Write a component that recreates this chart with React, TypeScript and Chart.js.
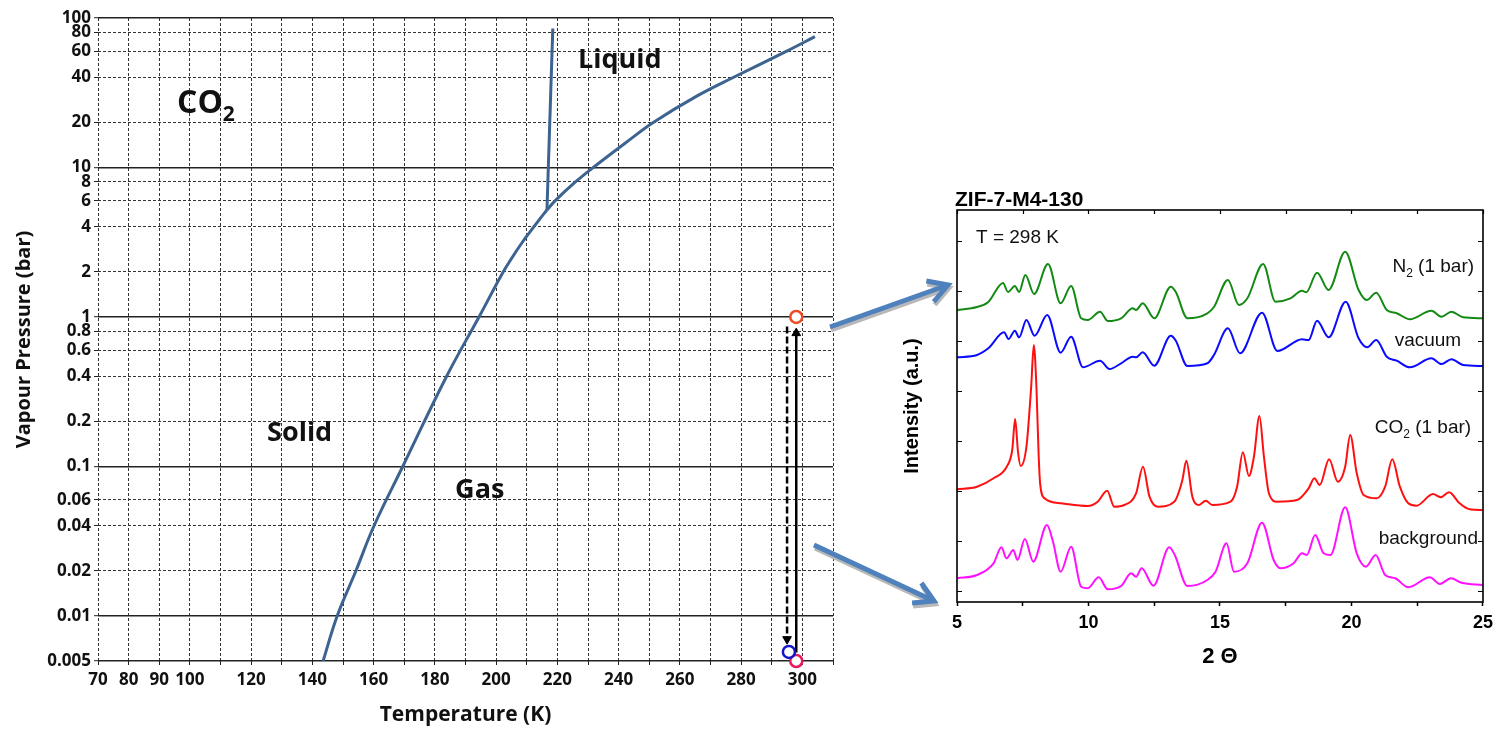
import React, { useEffect, useRef } from "react";
import { Chart, registerables } from "chart.js";

Chart.register(...registerables);

// ---------- CO2 phase diagram (temperature in K, pressure in bar) ----------
const SUBLIMATION_T = [143.5, 148.1, 154.2, 160.1, 169.5, 183.8, 194.4, 202.3, 205.5, 208.5, 211, 213.8, 216.6];
const SUBLIMATION_P = [0.005, 0.01, 0.02, 0.04, 0.1, 0.4, 1, 2, 2.55, 3.15, 3.7, 4.4, 5.2];
const VAPORIZATION_T = [216.6, 219.3, 225.9, 231.7, 243, 251.3, 265.5, 277.4, 294.9, 304.1];
const VAPORIZATION_P = [5.2, 6, 8, 10, 15, 20, 30, 40, 60, 75];
const FUSION_T = [216.6, 218.5];
const FUSION_P = [5.2, 85];

const T_TICKS = [70, 80, 90, 100, 110, 120, 130, 140, 150, 160, 170, 180, 190, 200, 210, 220, 230, 240, 250, 260, 270, 280, 290, 300, 310];
const T_LABELS = [70, 80, 90, 100, 120, 140, 160, 180, 200, 220, 240, 260, 280, 300];
const P_TICKS = [0.005, 0.01, 0.02, 0.04, 0.06, 0.1, 0.2, 0.4, 0.6, 0.8, 1, 2, 4, 6, 8, 10, 20, 40, 60, 80, 100];
const P_SOLID = [0.005, 0.01, 0.1, 1, 10, 100];

// measurement states: CO2 1 bar, evacuated, background
const STATE_T = [298, 298, 295.6];
const STATE_P = [1, 0.005, 0.00575];
const STATE_COLORS = ["#f04a22", "#e8195e", "#1414c8"];

// pressure steps at room temperature
const STEP_UP_T = [298, 298];
const STEP_UP_P = [0.0057, 0.78];
const STEP_DOWN_T = [295, 295];
const STEP_DOWN_P = [0.865, 0.007];

const REGION_NAMES = ["Liquid", "Solid", "Gas"];
const REGION_T = [226.7, 125.2, 186.6];
const REGION_P = [46.3, 0.149, 0.0619];
const SPECIES_T = 95.8;
const SPECIES_P = 23.1;

// ---------- XRD patterns, 2θ vs stacked intensity ----------
const N2_PATTERN: [number, number][] = [
  [5, 292], [5.76, 295], [6.19, 300], [6.75, 319], [6.94, 310], [7.2, 316], [7.36, 310], [7.6, 327], [7.93, 308],
  [8.46, 338], [8.94, 298.7], [9.34, 316], [9.72, 283.7], [9.97, 282], [10.44, 290.3], [10.73, 281], [11.24, 283.7],
  [11.68, 293.7], [11.81, 292], [12.06, 298.7], [12.5, 283.7], [13.13, 315.3], [13.32, 310], [13.76, 283.7],
  [14.52, 288.7], [14.77, 295], [15.3, 322], [15.72, 297], [16.04, 303.7], [16.64, 338], [17.11, 300.3],
  [17.68, 303.7], [18.12, 311.3], [18.28, 309.7], [18.69, 329.3], [19.13, 312], [19.76, 350.3], [20.27, 312],
  [20.58, 302], [20.94, 309.3], [21.34, 292], [21.72, 288.7], [22.22, 282.7], [23.04, 291.3], [23.42, 285.3],
  [23.8, 290.3], [24.24, 284.7], [25, 283.7],
];
const VACUUM_PATTERN: [number, number][] = [
  [5, 244.7], [5.76, 247], [6.19, 253.7], [6.79, 269.7], [6.96, 263], [7.2, 271.3], [7.36, 264.7], [7.64, 282],
  [7.95, 266.3], [8.43, 287], [8.94, 249.3], [9.34, 265.3], [9.79, 234.7], [10.44, 241.3], [10.8, 233],
  [11.24, 238.7], [11.68, 245.3], [11.81, 244.7], [12.06, 249.7], [12.5, 236.3], [13.13, 266.3], [13.32, 261.3],
  [13.76, 236], [14.52, 238.7], [14.77, 247], [15.3, 273.7], [15.76, 248.7], [16.6, 289.3], [17.18, 251],
  [18.12, 262.7], [18.37, 262], [18.69, 281.3], [19.13, 264.7], [19.78, 300.3], [20.27, 263.7], [20.6, 254.7],
  [20.94, 262], [21.34, 245.3], [21.72, 241.3], [22.22, 234.7], [23.04, 243.7], [23.42, 238], [23.8, 242.7],
  [24.24, 237], [25, 236],
];
const CO2_PATTERN: [number, number][] = [
  [5, 112.7], [5.76, 115.3], [6.39, 123.7], [6.89, 135.3], [7.1, 152], [7.21, 183], [7.32, 150], [7.42, 136],
  [7.64, 155.3], [7.82, 215], [7.92, 257], [8.02, 215], [8.1, 150], [8.16, 118.7], [8.33, 103.7], [8.96, 98.7],
  [9.97, 96], [10.35, 100.3], [10.71, 111.3], [10.98, 95.3], [11.36, 97], [11.81, 108.7], [12.07, 135.3],
  [12.32, 105.3], [12.63, 95.3], [13.26, 100.3], [13.57, 122], [13.72, 141.3], [13.95, 105.3], [14.2, 97],
  [14.46, 101.3], [14.71, 97], [15.4, 100.3], [15.65, 115.3], [15.87, 149.7], [16.1, 126], [16.29, 145.3],
  [16.5, 186], [16.67, 145.3], [16.86, 108.7], [17.17, 100.3], [17.93, 102], [18.37, 113.7], [18.59, 123.7],
  [18.79, 117], [19.15, 142.7], [19.48, 120.3], [19.76, 135.3], [19.95, 167], [20.2, 128.7], [20.46, 107],
  [20.96, 103.7], [21.28, 115.3], [21.55, 142.7], [21.84, 115.3], [22.16, 98.7], [22.47, 96.3], [23.1, 108],
  [23.39, 104.7], [23.71, 109.7], [24.11, 98.7], [24.49, 92.7], [25, 92],
];
const BACKGROUND_PATTERN: [number, number][] = [
  [5, 23.7], [5.76, 27], [6.39, 38.7], [6.69, 54.7], [6.88, 43.7], [7.14, 52], [7.3, 42], [7.58, 63], [7.9, 40.3],
  [8.42, 77], [8.65, 60.3], [8.94, 30.3], [9.34, 55.3], [9.72, 15.3], [9.97, 13.7], [10.39, 24.7], [10.73, 12.7],
  [11.24, 16], [11.62, 28.7], [11.81, 25.3], [12.02, 33.7], [12.47, 16.3], [13.07, 54.7], [13.28, 47], [13.76, 16],
  [14.52, 22], [14.83, 30.3], [15.25, 58.7], [15.53, 30.3], [16.04, 38.7], [16.6, 79.3], [17.04, 42], [17.3, 33.7],
  [17.8, 38.7], [18.12, 48.7], [18.3, 47], [18.62, 67], [18.94, 48.7], [19.2, 47], [19.76, 94.7], [20.2, 48.7],
  [20.55, 35.3], [20.92, 47], [21.28, 27], [21.66, 23.7], [22.16, 14.7], [22.98, 24.7], [23.36, 18], [23.78, 23.7],
  [24.18, 19.3], [25, 17],
];
const PATTERNS = [N2_PATTERN, VACUUM_PATTERN, CO2_PATTERN, BACKGROUND_PATTERN];
const PATTERN_COLORS = ["#148a14", "#0a0aff", "#ff1010", "#ff10ff"];
// label text runs: odd entries are subscripts
const PATTERN_LABELS = [["N", "2", " (1 bar)"], ["vacuum"], ["CO", "2", " (1 bar)"], ["background"]];
const PATTERN_LABEL_X = [24.66, 24.17, 24.55, 24.81];
const PATTERN_LABEL_Y = [330, 256, 169, 58];

const THETA_TICKS = [5, 7.5, 10, 12.5, 15, 17.5, 20, 22.5, 25];
const INTENSITY_TICKS = [11, 61, 111, 161, 211, 261, 311, 361];

const OPEN_SANS = '"Open Sans", sans-serif';
const ARIAL = '"Liberation Sans", Arial, sans-serif';
const CURVE_BLUE = "#3d6391";

const zip = (xs: number[], ys: number[]) => xs.map((x, i) => ({ x, y: ys[i] }));

function drawRuns(
  ctx: CanvasRenderingContext2D,
  runs: string[],
  x: number,
  y: number,
  size: number,
  subSize: number,
  subDrop: number,
  weight: string,
  family: string,
  align: "left" | "right"
) {
  const main = `${weight} ${size}px ${family}`;
  const small = `${weight} ${subSize}px ${family}`;
  let width = 0;
  runs.forEach((t, i) => {
    ctx.font = i % 2 ? small : main;
    width += ctx.measureText(t).width;
  });
  let cx = align === "right" ? x - width : x;
  ctx.textAlign = "left";
  ctx.textBaseline = "alphabetic";
  runs.forEach((t, i) => {
    ctx.font = i % 2 ? small : main;
    ctx.fillText(t, cx, i % 2 ? y + subDrop : y);
    cx += ctx.measureText(t).width;
  });
}

const phaseLabels = {
  id: "phaseLabels",
  afterDatasetsDraw(chart: any) {
    const { ctx, scales } = chart;
    const x = scales.x;
    const y = scales.y;
    ctx.save();
    ctx.fillStyle = "#111";
    REGION_NAMES.forEach((name, i) => {
      ctx.font = `bold 27px ${OPEN_SANS}`;
      ctx.textAlign = "left";
      ctx.textBaseline = "alphabetic";
      ctx.fillText(name, x.getPixelForValue(REGION_T[i]), y.getPixelForValue(REGION_P[i]));
    });
    drawRuns(ctx, ["CO", "2"], x.getPixelForValue(SPECIES_T), y.getPixelForValue(SPECIES_P), 32, 21, 8, "bold", OPEN_SANS, "left");
    ctx.restore();
  },
};

const xrdFrame = {
  id: "xrdFrame",
  afterDraw(chart: any) {
    const { ctx, chartArea: a, scales } = chart;
    const x = scales.x;
    const y = scales.y;
    ctx.save();
    ctx.strokeStyle = "#000";
    ctx.lineWidth = 1.6;
    ctx.strokeRect(a.left, a.top, a.right - a.left, a.bottom - a.top);
    ctx.lineWidth = 1.2;
    ctx.beginPath();
    INTENSITY_TICKS.forEach((v) => {
      const py = Math.round(y.getPixelForValue(v)) + 0.5;
      ctx.moveTo(a.left, py);
      ctx.lineTo(a.left + 5, py);
      ctx.moveTo(a.right, py);
      ctx.lineTo(a.right - 5, py);
    });
    THETA_TICKS.forEach((v) => {
      const px = Math.round(x.getPixelForValue(v)) + 0.5;
      ctx.moveTo(px, a.top);
      ctx.lineTo(px, a.top + 4);
    });
    ctx.stroke();

    ctx.fillStyle = "#000";
    ctx.font = `bold 21px ${ARIAL}`;
    ctx.textAlign = "left";
    ctx.textBaseline = "alphabetic";
    ctx.fillText("ZIF-7-M4-130", a.left - 2, a.top - 4);
    ctx.font = `19px ${ARIAL}`;
    ctx.fillStyle = "#111";
    ctx.fillText("T = 298 K", a.left + 19, a.top + 33);

    PATTERN_LABELS.forEach((runs, i) => {
      drawRuns(ctx, runs, x.getPixelForValue(PATTERN_LABEL_X[i]), y.getPixelForValue(PATTERN_LABEL_Y[i]), 19, 12, 5, "normal", ARIAL, "right");
    });
    ctx.restore();
  },
};

function arrowPath(x1: number, y1: number, x2: number, y2: number) {
  const ang = Math.atan2(y2 - y1, x2 - x1);
  const len = 22;
  const spread = Math.PI / 6;
  const ax = x2 - len * Math.cos(ang - spread);
  const ay = y2 - len * Math.sin(ang - spread);
  const bx = x2 - len * Math.cos(ang + spread);
  const by = y2 - len * Math.sin(ang + spread);
  return `M${x1},${y1} L${x2},${y2} M${ax},${ay} L${x2},${y2} L${bx},${by}`;
}

export default function App() {
  const phaseRef = useRef<HTMLCanvasElement>(null);
  const xrdRef = useRef<HTMLCanvasElement>(null);

  useEffect(() => {
    const isSolid = (v: number) => P_SOLID.some((s) => Math.abs(s - v) / s < 1e-6);
    const phase = new Chart(phaseRef.current as HTMLCanvasElement, {
      type: "line",
      data: {
        datasets: [
          {
            data: zip(STATE_T, STATE_P),
            showLine: false,
            pointRadius: 6,
            pointBorderWidth: 2.5,
            pointBackgroundColor: "#fff",
            pointBorderColor: STATE_COLORS,
            clip: false,
          } as any,
          {
            data: zip(STEP_UP_T, STEP_UP_P),
            borderColor: "#000",
            borderWidth: 2.5,
            pointRadius: [0, 5],
            pointStyle: "triangle",
            pointBackgroundColor: "#000",
            pointBorderColor: "#000",
            pointBorderWidth: 1,
            clip: false,
          },
          {
            data: zip(STEP_DOWN_T, STEP_DOWN_P),
            borderColor: "#000",
            borderWidth: 2.5,
            borderDash: [7, 3],
            pointRadius: [0, 5],
            pointStyle: "triangle",
            pointRotation: 180,
            pointBackgroundColor: "#000",
            pointBorderColor: "#000",
            pointBorderWidth: 1,
            clip: false,
          },
          {
            data: zip(SUBLIMATION_T, SUBLIMATION_P),
            borderColor: CURVE_BLUE,
            borderWidth: 3,
            pointRadius: 0,
            tension: 0.4,
          },
          {
            data: zip(VAPORIZATION_T, VAPORIZATION_P),
            borderColor: CURVE_BLUE,
            borderWidth: 3,
            pointRadius: 0,
            tension: 0.4,
          },
          {
            data: zip(FUSION_T, FUSION_P),
            borderColor: CURVE_BLUE,
            borderWidth: 3,
            pointRadius: 0,
          },
        ],
      },
      options: {
        animation: false,
        responsive: false,
        events: [],
        layout: { padding: { left: 0, right: 12, top: 18, bottom: 0 } },
        plugins: { legend: { display: false }, tooltip: { enabled: false } },
        scales: {
          x: {
            type: "linear",
            min: 70,
            max: 310,
            afterBuildTicks: (s: any) => {
              s.ticks = T_TICKS.map((v) => ({ value: v }));
            },
            afterFit: (s: any) => {
              s.height = 68;
            },
            ticks: {
              autoSkip: false,
              maxRotation: 0,
              padding: 5,
              color: "#111",
              font: { family: OPEN_SANS, size: 17, weight: "bold" },
              callback: (v: any) => (T_LABELS.includes(Number(v)) ? String(v) : ""),
            },
            grid: { color: "#333", lineWidth: 1, tickLength: 4, tickColor: "#222", tickWidth: 1 },
            border: { display: false, dash: [3, 2] },
            title: {
              display: true,
              text: "Temperature (K)",
              color: "#111",
              font: { family: OPEN_SANS, size: 21, weight: "bold" },
              padding: { top: 0, bottom: 1 },
            },
          },
          y: {
            type: "logarithmic",
            min: 0.005,
            max: 100,
            afterBuildTicks: (s: any) => {
              s.ticks = P_TICKS.map((v) => ({ value: v }));
            },
            afterFit: (s: any) => {
              s.width = 98;
            },
            ticks: {
              autoSkip: false,
              padding: 3,
              color: "#111",
              font: { family: OPEN_SANS, size: 17, weight: "bold" },
              callback: (v: any) => String(v),
            },
            grid: {
              color: (c: any) => (c.tick && isSolid(c.tick.value) ? "#222" : "#333"),
              lineWidth: (c: any) => (c.tick && isSolid(c.tick.value) ? 1.4 : 1),
              tickLength: 4,
              tickColor: "#222",
              tickWidth: 1,
            },
            border: {
              display: false,
              dash: (c: any) => (c.tick && isSolid(c.tick.value) ? [] : [3, 2]),
            } as any,
            title: {
              display: true,
              text: "Vapour Pressure (bar)",
              color: "#111",
              font: { family: OPEN_SANS, size: 20, weight: "bold" },
              padding: { top: 12, bottom: 0 },
            },
          },
        },
      } as any,
      plugins: [phaseLabels],
    });

    const xrd = new Chart(xrdRef.current as HTMLCanvasElement, {
      type: "line",
      data: {
        datasets: PATTERNS.map((p, i) => ({
          data: p.map(([t, v]) => ({ x: t, y: v })),
          borderColor: PATTERN_COLORS[i],
          borderWidth: 2,
          pointRadius: 0,
          cubicInterpolationMode: "monotone" as const,
        })),
      },
      options: {
        animation: false,
        responsive: false,
        events: [],
        layout: { padding: { left: 0, right: 14, top: 30, bottom: 0 } },
        plugins: { legend: { display: false }, tooltip: { enabled: false } },
        scales: {
          x: {
            type: "linear",
            min: 5,
            max: 25,
            afterBuildTicks: (s: any) => {
              s.ticks = THETA_TICKS.map((v) => ({ value: v }));
            },
            afterFit: (s: any) => {
              s.height = 78;
            },
            ticks: {
              autoSkip: false,
              maxRotation: 0,
              padding: 6,
              color: "#000",
              font: { family: ARIAL, size: 18, weight: "bold" },
              callback: (v: any) => (Number(v) % 5 === 0 ? String(v) : ""),
            },
            grid: { drawOnChartArea: false, tickLength: 4, tickColor: "#000", tickWidth: 1.5, color: "#000" },
            border: { display: false },
            title: {
              display: true,
              text: "2 Θ",
              color: "#000",
              font: { family: ARIAL, size: 22, weight: "bold" },
              padding: { top: 0, bottom: 10 },
            },
          },
          y: {
            type: "linear",
            min: 0,
            max: 392,
            afterBuildTicks: (s: any) => {
              s.ticks = INTENSITY_TICKS.map((v) => ({ value: v }));
            },
            afterFit: (s: any) => {
              s.width = 77;
            },
            ticks: { display: false },
            grid: { display: false },
            border: { display: false },
            title: {
              display: true,
              text: "Intensity (a.u.)",
              color: "#000",
              font: { family: ARIAL, size: 20, weight: "bold" },
              padding: { top: 20, bottom: 0 },
            },
          },
        },
      } as any,
      plugins: [xrdFrame],
    });

    return () => {
      phase.destroy();
      xrd.destroy();
    };
  }, []);

  return (
    <div style={{ position: "absolute", left: 0, top: 0, width: 1499, height: 729, background: "#fff", overflow: "hidden" }}>
      <canvas ref={phaseRef} width={845} height={729} style={{ position: "absolute", left: 0, top: 0, width: 845, height: 729 }} />
      <canvas ref={xrdRef} width={619} height={500} style={{ position: "absolute", left: 880, top: 180, width: 619, height: 500 }} />
      <svg width={1499} height={729} style={{ position: "absolute", left: 0, top: 0, pointerEvents: "none" }}>
        <g stroke="#b8b8b8" strokeWidth={5} fill="none" transform="translate(1,3)">
          <path d={arrowPath(830, 327, 948, 285)} />
          <path d={arrowPath(814, 545, 934, 601)} />
        </g>
        <g stroke="#4f81bd" strokeWidth={5} fill="none">
          <path d={arrowPath(830, 327, 948, 285)} />
          <path d={arrowPath(814, 545, 934, 601)} />
        </g>
      </svg>
    </div>
  );
}
